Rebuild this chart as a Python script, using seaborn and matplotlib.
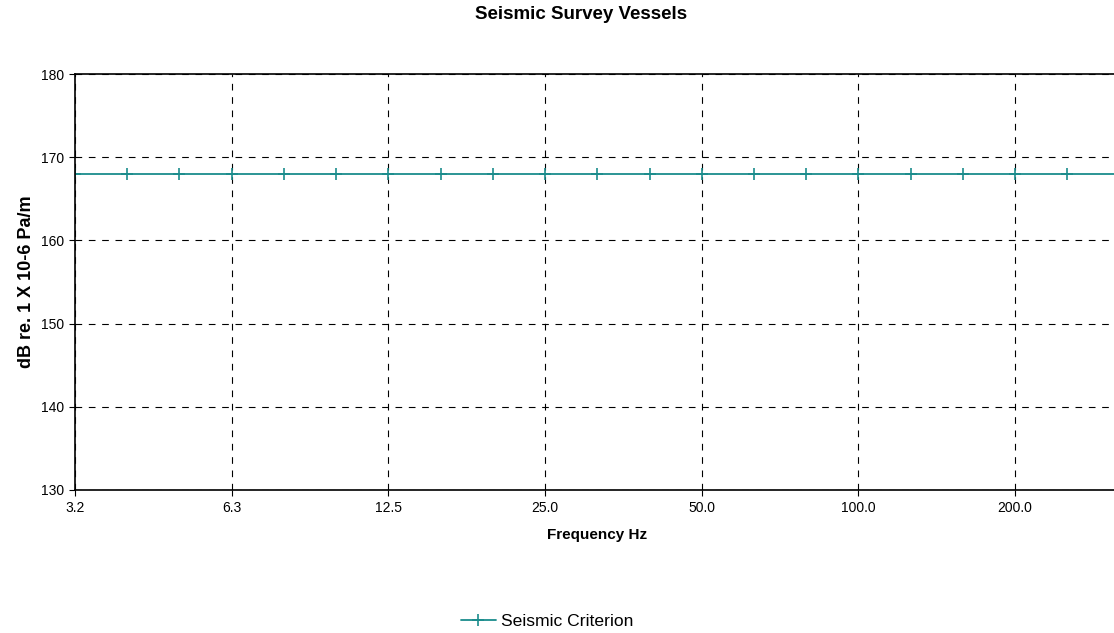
import matplotlib
matplotlib.use("Agg")
import matplotlib.pyplot as plt
import seaborn as sns
import pandas as pd

# third-octave band centres (Hz) and the criterion level
bands = ["3.2", "4.0", "5.0", "6.3", "8.0", "10.0", "12.5", "16.0", "20.0", "25.0",
         "31.5", "40.0", "50.0", "63.0", "80.0", "100.0", "125.0", "160.0", "200.0", "250.0",
         "315.0"]
criterion = [168] * len(bands)
tick_labels = ["3.2", "6.3", "12.5", "25.0", "50.0", "100.0", "200.0"]

df = pd.DataFrame({"band": range(len(bands)), "level": criterion})

sns.set_style("white")
plt.rcParams["font.family"] = ["Liberation Sans", "DejaVu Sans"]
plt.rcParams["text.color"] = "black"
plt.rcParams["axes.labelcolor"] = "black"
plt.rcParams["xtick.color"] = "black"
plt.rcParams["ytick.color"] = "black"

fig = plt.figure(figsize=(11.14, 6.33), dpi=100)
ax = fig.add_axes([0.0673, 0.226, 0.9377, 0.657])

sns.lineplot(data=df, x="band", y="level", ax=ax, color="#1a8c8c", lw=1.3,
             marker="+", markersize=8, markeredgewidth=1.2, markeredgecolor="#1a8c8c",
             label="Seismic Criterion")

ax.set_xlim(0, 20)
ax.set_ylim(130, 180)
ax.set_yticks([130, 140, 150, 160, 170, 180])
ax.set_xticks(range(0, 20, 3))
ax.set_xticklabels(tick_labels)

ax.grid(True, axis="both", color="black", linestyle=(0, (6, 6)), linewidth=0.8)
ax.tick_params(axis="both", direction="out", length=4, width=0.8, color="black",
               labelsize=10, bottom=True, left=True)
ax.tick_params(axis="x", pad=4)
ax.tick_params(axis="y", pad=4)
for s in ["left", "bottom", "top"]:
    ax.spines[s].set_color("black")
    ax.spines[s].set_linewidth(1.2)
ax.spines["right"].set_visible(False)

ax.set_xlabel("Frequency Hz", fontsize=11, fontweight="bold", labelpad=9)
ax.set_ylabel("dB re. 1 X 10-6 Pa/m", fontsize=13, fontweight="bold", labelpad=4)
fig.suptitle("Seismic Survey Vessels", fontsize=13.5, fontweight="bold",
             x=0.522, y=0.99, va="top")

ax.legend(loc="center", bbox_to_anchor=(0.491, 0.018), bbox_transform=fig.transFigure,
          frameon=False, fontsize=12.6, handlelength=2.0, handletextpad=0.3)

fig.savefig("out.png", dpi=100)
